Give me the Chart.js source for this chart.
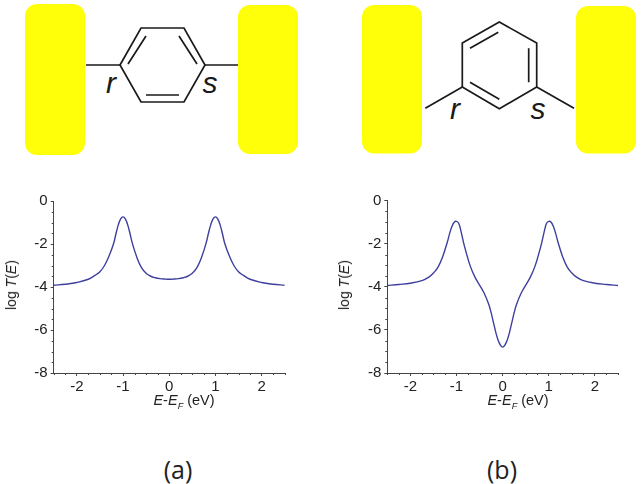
<!DOCTYPE html>
<html>
<head>
<meta charset="utf-8">
<title>Transmission through para and meta benzene junctions</title>
<script src="https://cdn.jsdelivr.net/npm/chart.js@4"></script>
<style>
  html, body { margin: 0; padding: 0; background: #fff; }
  #page { position: relative; width: 642px; height: 484px; overflow: hidden; font-family: "Liberation Sans", Arial, sans-serif; color: #222; }
  #page canvas { position: absolute; top: 180px; }
  #molecules { position: absolute; left: 0; top: 0; }
  .xTitle, .yTitle, .panel { position: absolute; white-space: nowrap; transform: translate(-50%, -50%); }
  .xTitle { font-size: 14.5px; top: 400px; }
  .xTitle sub { font-size: 9px; line-height: 0; }
  .yTitle { font-size: 14px; top: 285px; transform: translate(-50%, -50%) rotate(-90deg); }
  .panel { font-family: "Open Sans", sans-serif; font-size: 25px; top: 469px; }
</style>
</head>
<body>
<div id="page">
  <svg id="molecules" width="642" height="180" stroke="#1a1a1a" stroke-width="1.7" fill="none">
    <g fill="#ffff0a" stroke="none">
      <rect x="25" y="4" width="60" height="151" rx="12"/>
      <rect x="238" y="5" width="60" height="149" rx="12"/>
      <rect x="362" y="5" width="60" height="148.5" rx="12"/>
      <rect x="576" y="6" width="60" height="147.5" rx="12"/>
    </g>
    <polygon points="120,65 141,28 184,28 205,65 184,102 141,102"/>
    <path d="M86 65H120M205 65H238M128 64L146 36M179 36L197 64M146 95H179"/>
    <polygon points="499.3,22 536.7,43 536.7,87 499.3,108.7 462.3,87 462.3,43"/>
    <path d="M425.3 108.3L462.3 87M536.7 87L574 108.3M470 48.3L498.3 32.3M528.7 48.3V82.3M470 82.3L499.3 99.3"/>
    <g fill="#1a1a1a" stroke="none" font-family="Liberation Sans, Arial, sans-serif" font-style="italic" font-size="30" text-anchor="middle">
      <text x="111" y="93">r</text>
      <text x="210" y="93">s</text>
      <text x="455" y="119">r</text>
      <text x="538" y="119">s</text>
    </g>
  </svg>
  <canvas id="chartA" width="321" height="228" style="left:0"></canvas>
  <canvas id="chartB" width="321" height="228" style="left:321px"></canvas>
  <div class="yTitle" style="left:11px">log <i>T</i>(<i>E</i>)</div>
  <div class="yTitle" style="left:344px">log <i>T</i>(<i>E</i>)</div>
  <div class="xTitle" style="left:184px"><i>E</i>-<i>E<sub>F</sub></i> (eV)</div>
  <div class="xTitle" style="left:518px"><i>E</i>-<i>E<sub>F</sub></i> (eV)</div>
  <div class="panel" style="left:178px">(a)</div>
  <div class="panel" style="left:502px">(b)</div>
</div>
<script>
// Energies and log T for panel (a)
const energyA = [-2.5, -2.25, -2, -1.75, -1.6, -1.5, -1.4, -1.3, -1.2, -1.15, -1.1, -1.05, -1, -0.95, -0.9, -0.85, -0.8, -0.7, -0.6, -0.5, -0.4, -0.3, -0.2, -0.1, 0,
  0.1, 0.2, 0.3, 0.4, 0.5, 0.6, 0.7, 0.8, 0.85, 0.9, 0.95, 1, 1.05, 1.1, 1.15, 1.2, 1.3, 1.4, 1.5, 1.6, 1.75, 2, 2.25, 2.5];
const logTA = [-3.92, -3.87, -3.79, -3.64, -3.45, -3.29, -3, -2.55, -1.95, -1.5, -1.1, -0.83, -0.74, -0.83, -1.1, -1.5, -1.95, -2.62, -3.1, -3.36, -3.5, -3.57, -3.61, -3.63, -3.64,
  -3.63, -3.61, -3.57, -3.5, -3.36, -3.1, -2.62, -1.95, -1.5, -1.1, -0.83, -0.74, -0.83, -1.1, -1.5, -1.95, -2.55, -3, -3.29, -3.45, -3.64, -3.79, -3.87, -3.92];

// Energies and log T for panel (b)
const energyB = [-2.5, -2.25, -2, -1.75, -1.6, -1.5, -1.4, -1.3, -1.2, -1.15, -1.1, -1.05, -1, -0.95, -0.9, -0.85, -0.8, -0.7, -0.6, -0.5, -0.4, -0.3, -0.25, -0.2, -0.15, -0.1, -0.05, 0,
  0.05, 0.1, 0.15, 0.2, 0.25, 0.3, 0.4, 0.5, 0.6, 0.7, 0.8, 0.85, 0.9, 0.95, 1, 1.05, 1.1, 1.15, 1.2, 1.3, 1.4, 1.5, 1.6, 1.75, 2, 2.25, 2.5];
const logTB = [-3.94, -3.89, -3.83, -3.71, -3.55, -3.36, -3.08, -2.6, -1.93, -1.53, -1.2, -1, -0.96, -1.06, -1.45, -1.92, -2.33, -3.05, -3.55, -3.92, -4.3, -4.82, -5.2, -5.65, -6.1, -6.47, -6.7, -6.8,
  -6.7, -6.47, -6.1, -5.65, -5.2, -4.82, -4.3, -3.92, -3.55, -3.05, -2.33, -1.92, -1.45, -1.06, -0.96, -1, -1.2, -1.53, -1.93, -2.6, -3.08, -3.36, -3.55, -3.71, -3.83, -3.89, -3.94];

// Tick positions
const xTicks = [-2, -1, 0, 1, 2];
const xMinorTicks = [-2.5, -2.25, -1.75, -1.5, -1.25, -0.75, -0.5, -0.25, 0.25, 0.5, 0.75, 1.25, 1.5, 1.75, 2.25, 2.5];
const yTicks = [0, -2, -4, -6, -8];
const yMinorTicks = [-0.5, -1, -1.5, -2.5, -3, -3.5, -4.5, -5, -5.5, -6.5, -7, -7.5];

const axisColor = "#444";
const lineColor = "#3f3f9e";

// Short unlabelled ticks between the labelled ones
const minorTickPlugin = {
  id: "minorTicks",
  afterDatasetsDraw(chart) {
    const ctx = chart.ctx;
    const area = chart.chartArea;
    ctx.save();
    ctx.strokeStyle = axisColor;
    ctx.lineWidth = 1;
    ctx.beginPath();
    xMinorTicks.forEach((v) => {
      const px = Math.round(chart.scales.x.getPixelForValue(v)) + 0.5;
      ctx.moveTo(px, area.bottom);
      ctx.lineTo(px, area.bottom + 2);
    });
    yMinorTicks.forEach((v) => {
      const py = Math.round(chart.scales.y.getPixelForValue(v)) + 0.5;
      ctx.moveTo(area.left, py);
      ctx.lineTo(area.left - 2, py);
    });
    ctx.stroke();
    ctx.restore();
  },
};

function createPanel(id, energy, logT, left, right, top) {
  new Chart(document.getElementById(id).getContext("2d"), {
    type: "line",
    data: {
      datasets: [
        {
          data: energy.map((e, i) => ({ x: e, y: logT[i] })),
          borderColor: lineColor,
          borderWidth: 1.4,
          pointRadius: 0,
          tension: 0.4,
        },
      ],
    },
    options: {
      responsive: false,
      animation: false,
      layout: { padding: { top: top, right: right, left: 0, bottom: 0 } },
      plugins: { legend: { display: false }, tooltip: { enabled: false } },
      scales: {
        x: {
          type: "linear",
          min: -2.5,
          max: 2.5,
          afterBuildTicks: (scale) => { scale.ticks = xTicks.map((value) => ({ value })); },
          afterFit: (scale) => { scale.height = 35; },
          border: { color: axisColor, width: 1 },
          grid: { drawOnChartArea: false, color: axisColor, tickLength: 3 },
          ticks: { color: "#222", font: { family: "Liberation Sans", size: 15 }, padding: 2, maxRotation: 0, autoSkip: false },
        },
        y: {
          min: -8,
          max: 0,
          afterBuildTicks: (scale) => { scale.ticks = yTicks.map((value) => ({ value })); },
          afterFit: (scale) => { scale.width = left; },
          border: { color: axisColor, width: 1 },
          grid: { drawOnChartArea: false, color: axisColor, tickLength: 3 },
          ticks: { color: "#222", font: { family: "Liberation Sans", size: 15 }, padding: 3 },
        },
      },
    },
    plugins: [minorTickPlugin],
  });
}

createPanel("chartA", energyA, logTA, 53.7, 36.3, 21);
createPanel("chartB", energyB, logTB, 66.3, 24, 20.7);
</script>
</body>
</html>
